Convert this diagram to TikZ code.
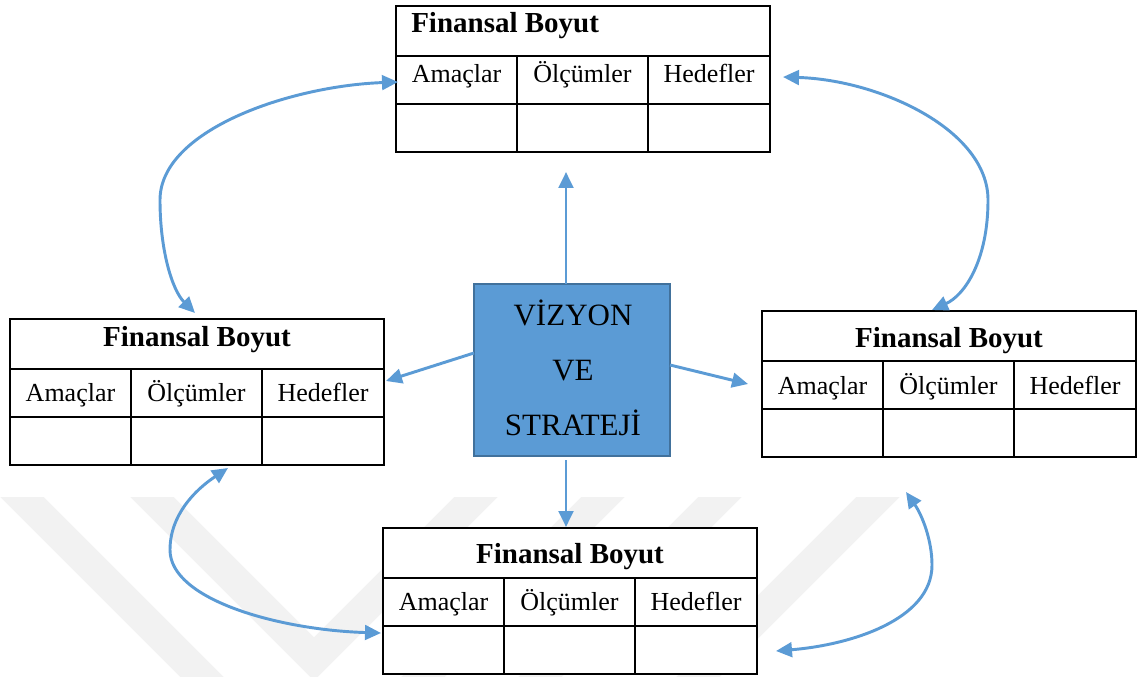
\documentclass[tikz,border=0pt]{standalone}
\usepackage{fontspec}
\setmainfont{Liberation Serif}
\usetikzlibrary{arrows.meta,calc}

\definecolor{linkblue}{RGB}{91,155,213}
\definecolor{boxblue}{RGB}{91,155,213}
\definecolor{boxedge}{RGB}{65,113,156}
\definecolor{wmgray}{RGB}{242,242,242}

\tikzset{
  tframe/.style={draw, line width=1.5pt, fill=white, inner sep=0pt, outer sep=0pt,
                 minimum width=280.5pt, minimum height=109.5pt},
  tline/.style={line width=1.5pt},
  cell/.style={inner sep=0pt, anchor=base, font=\fontsize{19.5}{23}\selectfont},
  head/.style={inner sep=0pt, anchor=base, font=\fontsize{21.75}{26}\selectfont\bfseries},
  vsbox/.style={draw=boxedge, fill=boxblue, line width=1.5pt, inner sep=0pt, outer sep=0pt,
                minimum width=147pt, minimum height=129pt},
  vstext/.style={inner sep=0pt, anchor=base, font=\fontsize{23.25}{28}\selectfont},
  tip/.tip={Triangle[length=12pt,width=11pt]},
  link/.style={draw=linkblue, line width=2.2pt, -tip},
  dlink/.style={draw=linkblue, line width=2.2pt, tip-tip},
  wmband/.style={draw=wmgray, line width=23pt, line join=miter}
}

% table: #1 name, #2 left x, #3 top y, #4 baseline offset of the column titles
\newcommand\fbtable[4]{%
  \node[tframe] (#1) at (#2+187,#3+73) {};
  \draw[tline] (#2,#3+50) -- (#2+374,#3+50);
  \draw[tline] (#2,#3+98) -- (#2+374,#3+98);
  \draw[tline] (#2+121,#3+50) -- (#2+121,#3+146);
  \draw[tline] (#2+252,#3+50) -- (#2+252,#3+146);
  \node[cell] (#1-a) at (#2+60.5,#3+50+#4) {Amaçlar};
  \node[cell] (#1-o) at (#2+186.5,#3+50+#4) {Ölçümler};
  \node[cell] (#1-h) at (#2+313,#3+50+#4) {Hedefler};
}

\begin{document}
\begin{tikzpicture}[x=0.75pt,y=-0.75pt]
\useasboundingbox (0,0) rectangle (1137,677);
\fill[white] (0,0) rectangle (1137,677);

% faint background chevrons
\begin{scope}
  \clip (0,497) rectangle (1137,677);
  \draw[wmband] (2,477) -- (222,697);
  \draw[wmband] (132,477) -- (314,659) -- (496,477);
  \draw[wmband] (623,477) -- (403,697);
  \draw[wmband] (740,477) -- (520,697);
  \draw[wmband] (898,477) -- (678,697);
\end{scope}

% the four tables
\fbtable{T}{396}{6}{27}
\node[head, anchor=base west] (T-t) at (411,33) {Finansal Boyut};

\fbtable{L}{10}{319}{32}
\node[head] (L-t) at (197,346) {Finansal Boyut};

\fbtable{R}{762}{311}{33}
\node[head] (R-t) at (949,347) {Finansal Boyut};

\fbtable{B}{383}{528}{32}
\node[head] (B-t) at (570,563) {Finansal Boyut};

% central box
\node[vsbox] (C) at (572,370) {};
\node[vstext] (C-1) at (573,325) {VİZYON};
\node[vstext] (C-2) at (573,380) {VE};
\node[vstext] (C-3) at (573,435) {STRATEJİ};

% arrow ends
\coordinate (tU) at ($(T.south)+(-17,20)$);
\coordinate (tD) at ($(B.north)+(-4,-1)$);
\coordinate (tL) at ($(L.east)+(2,-11)$);
\coordinate (tR) at ($(R.west)+(-14,0)$);

\draw[link] ($(C.north)+(-6,0)$) -- (tU);
\draw[link] ($(C.south)+(-6,4)$) -- (tD);
\draw[link] ($(C.west)+(0,-17)$) -- (tL);
\draw[link] ($(C.east)+(0,-5)$) -- (tR);

% curved links between neighbouring tables
\coordinate (a1) at ($(T.west)+(2,3)$);
\coordinate (a2) at ($(L.north)+(-2,-6)$);
\coordinate (b1) at ($(T.east)+(13,-2)$);
\coordinate (b2) at ($(R.north)+(-17,-1)$);
\coordinate (c1) at ($(L.south)+(31,3)$);
\coordinate (c2) at ($(B.west)+(-2,32)$);
\coordinate (d1) at ($(R.south)+(-43,35)$);
\coordinate (d2) at ($(B.east)+(19,50)$);

\draw[dlink] (a1) .. controls (290,86) and (160,130) .. (160,200)
                  .. controls (160,250) and (172,290) .. (a2);
\draw[dlink] (b1) .. controls (880,80) and (988,130) .. (988,200)
                  .. controls (988,260) and (965,295) .. (b2);
\draw[dlink] (c1) .. controls (195,490) and (170,515) .. (170,550)
                  .. controls (170,600) and (280,630) .. (c2);
\draw[dlink] (d1) .. controls (922,515) and (932,540) .. (932,565)
                  .. controls (932,620) and (850,645) .. (d2);
\end{tikzpicture}
\end{document}
